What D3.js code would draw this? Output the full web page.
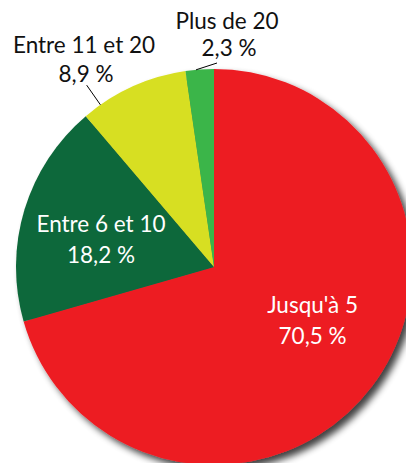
<!DOCTYPE html>
<html>
<head>
<meta charset="utf-8">
<script src="https://cdn.jsdelivr.net/npm/d3@7"></script>
<style>
  body { margin: 0; background: #fff; }
  text { font-family: Lato, "Open Sans", sans-serif; font-size: 22.5px; }
</style>
</head>
<body>
<script>
const width = 406;
const height = 463;

// data
const categories = ["Jusqu'à 5", "Entre 6 et 10", "Entre 11 et 20", "Plus de 20"];
const values = [70.5, 18.2, 8.9, 2.3];
const valueLabels = ["70,5 %", "18,2 %", "8,9 %", "2,3 %"];
const colors = ["#ED1C24", "#10673A", "#D7DF23", "#3BB54A"];

const cx = 214, cy = 267, radius = 198;

const svg = d3.select('body')
  .append('svg')
  .attr('width', width)
  .attr('height', height);

// drop shadow like the office chart
const defs = svg.append('defs');
const filter = defs.append('filter')
  .attr('id', 'shadow')
  .attr('x', '-20%').attr('y', '-20%')
  .attr('width', '140%').attr('height', '140%');
filter.append('feGaussianBlur').attr('in', 'SourceAlpha').attr('stdDeviation', 3.5);
filter.append('feOffset').attr('dx', 5).attr('dy', 5).attr('result', 'off');
filter.append('feComponentTransfer').append('feFuncA').attr('type', 'linear').attr('slope', 0.75);
const merge = filter.append('feMerge');
merge.append('feMergeNode');
merge.append('feMergeNode').attr('in', 'SourceGraphic');

const g = svg.append('g').attr('transform', `translate(${cx},${cy})`);

const pie = d3.pie().sort(null).value(d => d);
const arcs = pie(values);
const arc = d3.arc().innerRadius(0).outerRadius(radius);

g.append('g')
  .attr('filter', 'url(#shadow)')
  .selectAll('path')
  .data(arcs)
  .enter()
  .append('path')
  .attr('d', arc)
  .attr('fill', (d, i) => colors[i]);

// inside labels (white)
const inner = d3.arc().innerRadius(116).outerRadius(116);
const nudge = [[6, -16], [-2, 7]];
[0, 1].forEach(i => {
  const c = inner.centroid(arcs[i]);
  const t = g.append('text')
    .attr('text-anchor', 'middle')
    .attr('fill', '#fff')
    .attr('x', c[0] + nudge[i][0])
    .attr('y', c[1] + nudge[i][1]);
  t.append('tspan').attr('x', c[0] + nudge[i][0]).attr('dy', -8).text(categories[i]);
  t.append('tspan').attr('x', c[0] + nudge[i][0]).attr('dy', 31).text(valueLabels[i]);
});

// outside labels with leader lines
const outside = [
  { i: 2, a0: 325 * Math.PI / 180, r2: 222, tx: -130, ty: -214, gap: 29 },
  { i: 3, a0: 354.8 * Math.PI / 180, r2: 198, tx: 13, ty: -238, gap: 27 }
];
outside.forEach(o => {
  const p1 = [Math.sin(o.a0) * radius, -Math.cos(o.a0) * radius];
  let p2;
  if (o.i === 3) p2 = [3, -204];
  else p2 = [Math.sin(o.a0) * o.r2, -Math.cos(o.a0) * o.r2];
  g.append('line')
    .attr('x1', p1[0]).attr('y1', p1[1])
    .attr('x2', p2[0]).attr('y2', p2[1])
    .attr('stroke', '#000')
    .attr('stroke-width', 1);
  const t = g.append('text')
    .attr('text-anchor', 'middle')
    .attr('fill', '#111');
  t.append('tspan').attr('x', o.tx).attr('y', o.ty).text(categories[o.i]);
  t.append('tspan').attr('x', o.tx + 2).attr('dy', o.gap).text(valueLabels[o.i]);
});
</script>
</body>
</html>
